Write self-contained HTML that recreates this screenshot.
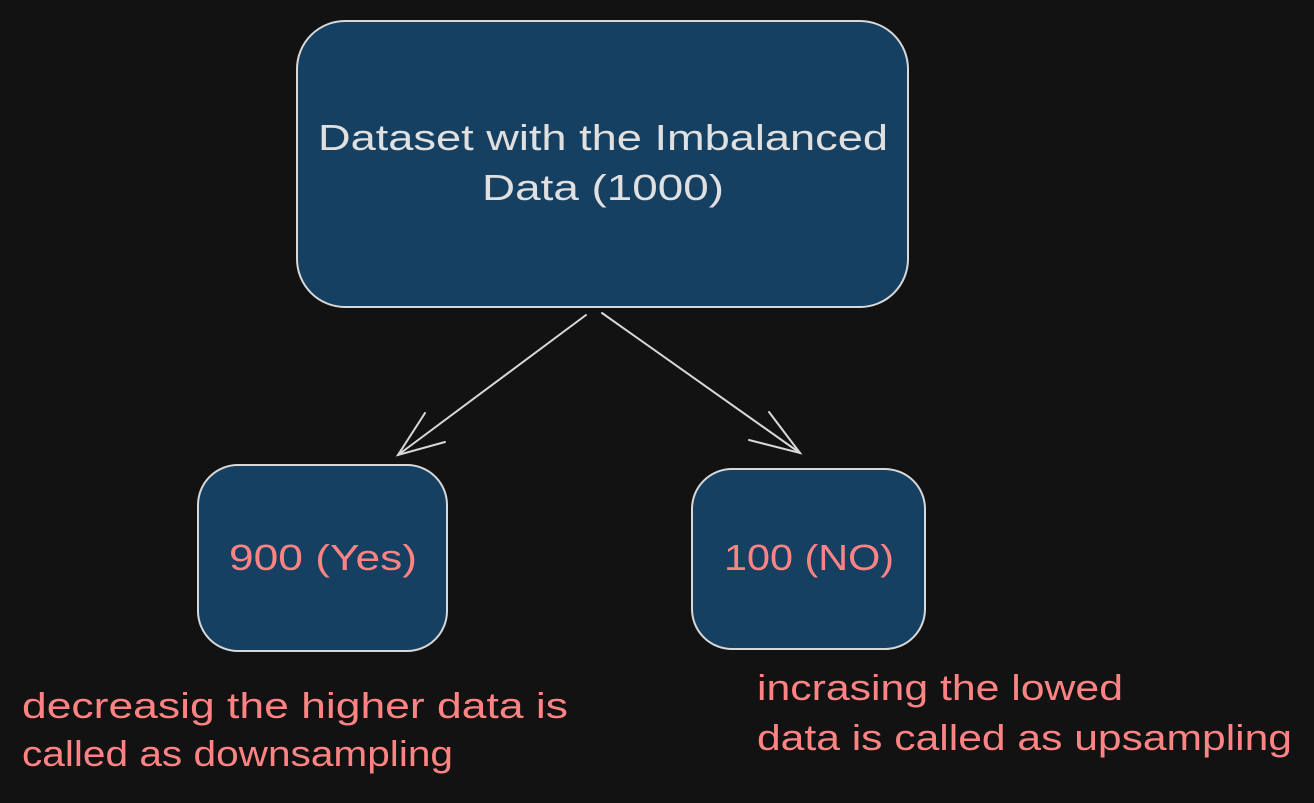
<!DOCTYPE html>
<html><head><style>
html,body{margin:0;padding:0;background:#121212;}
svg{display:block;}
text{font-family:"Liberation Sans",sans-serif;}
</style></head><body>
<svg width="1314" height="803" viewBox="0 0 1314 803" xmlns="http://www.w3.org/2000/svg">
<rect width="1314" height="803" fill="#121212"/>
<rect x="297" y="21" width="611" height="286" rx="48" fill="#164062" stroke="#d8d8d8" stroke-width="2"/>
<rect x="198" y="465" width="249" height="186" rx="40" fill="#164062" stroke="#d8d8d8" stroke-width="2"/>
<rect x="692" y="469" width="233" height="180" rx="40" fill="#164062" stroke="#d8d8d8" stroke-width="2"/>
<g stroke="#d8d8d8" stroke-width="2" fill="none" stroke-linecap="round">
<line x1="586" y1="315" x2="398" y2="455"/>
<polyline points="425,413 398,455 445,442"/>
<line x1="602" y1="313" x2="800" y2="453"/>
<polyline points="769,412 800,453 749,440"/>
</g>
<g fill="#e0e0e0" font-size="36">
<text x="318" y="150" textLength="570" lengthAdjust="spacingAndGlyphs">Dataset with the Imbalanced</text>
<text x="482" y="200" textLength="242" lengthAdjust="spacingAndGlyphs">Data (1000)</text>
</g>
<g fill="#ff8383" font-size="36">
<text x="229" y="570" textLength="188" lengthAdjust="spacingAndGlyphs">900 (Yes)</text>
<text x="724" y="570" textLength="170" lengthAdjust="spacingAndGlyphs">100 (NO)</text>
<text x="22" y="718" textLength="546" lengthAdjust="spacingAndGlyphs">decreasig the higher data is</text>
<text x="22" y="766" textLength="431" lengthAdjust="spacingAndGlyphs">called as downsampling</text>
<text x="757" y="700" textLength="366" lengthAdjust="spacingAndGlyphs">incrasing the lowed</text>
<text x="757" y="750" textLength="535" lengthAdjust="spacingAndGlyphs">data is called as upsampling</text>
</g>
</svg>
</body></html>
